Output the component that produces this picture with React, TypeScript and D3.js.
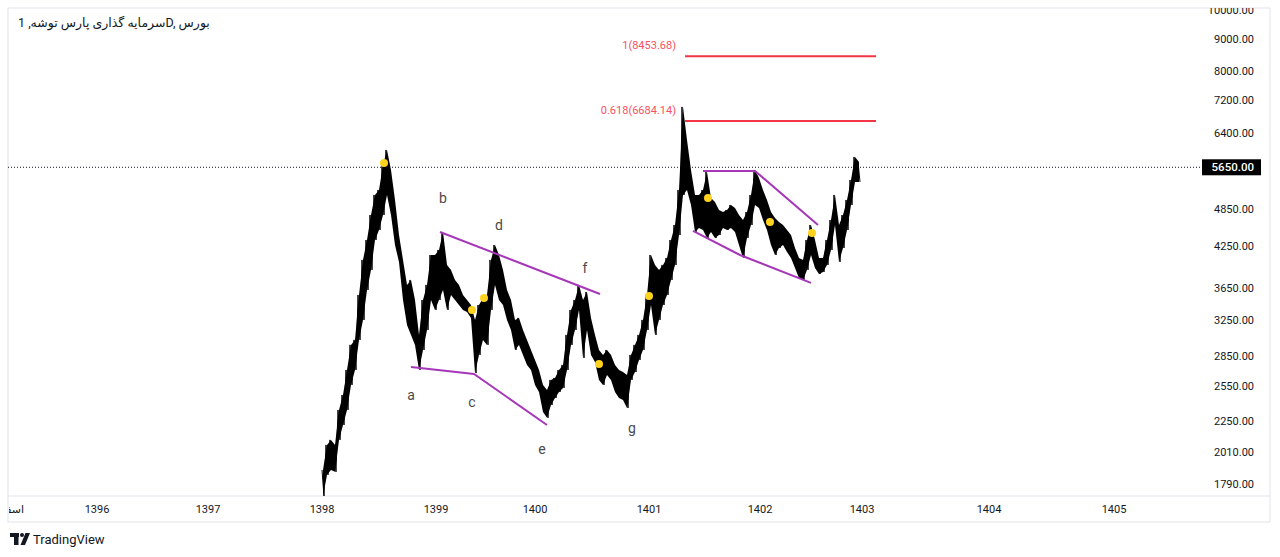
import { useEffect } from 'react';
import * as d3 from 'd3';

// bar-sampled high / low (every bar ≈ one slot of the TradingView time scale)
const barHigh = [
  1884, 2063, 2101, 2063, 2342, 2473, 2708, 2966, 3020, 3555,
  4037, 4340, 4752, 5110, 5204, 5698, 6017, 5596, 5018, 4419,
  4037, 3687, 3754, 3491, 3075, 3491, 3687, 4110, 4110, 4186,
  4468, 3964, 3893, 3754, 3687, 3555, 3491, 3428, 3247, 3428,
  3517, 3555, 4037, 4262, 4110, 3893, 3620, 3491, 3247, 3271,
  3131, 3020, 2912, 2808, 2708, 2565, 2518, 2612, 2631, 2708,
  2758, 3075, 3367, 3491, 3687, 3491, 3594, 3271, 3075, 2912,
  2860, 2912, 2860, 2758, 2708, 2688, 2660, 2860, 2966, 3075,
  3247, 3555, 4110, 3964, 3893, 3964, 4066, 4340, 4583, 5204,
  7033, 6238, 5596, 5110, 5110, 5204, 5556, 5055, 4982, 4839,
  4804, 4839, 4928, 4875, 4752, 4667, 4804, 5110, 5596, 5436,
  5204, 5018, 4804, 4701, 4633, 4583, 4500, 4419, 4216, 4066,
  4037, 4340, 4583, 4340, 4066, 4066, 4340, 4667, 5110, 4583,
  4752, 5018, 5396, 5866, 5760,
];
const barLow = [
  1711, 1851, 1884, 1871, 2101, 2218, 2342, 2565, 2708, 3020,
  3247, 3620, 3893, 4340, 4500, 4752, 5110, 4752, 4262, 4008,
  3491, 3189, 3075, 2966, 2708, 2912, 3131, 3491, 3367, 3491,
  3620, 3367, 3555, 3491, 3428, 3367, 3343, 3271, 2678, 2860,
  3020, 2966, 3367, 3687, 3491, 3428, 3247, 3131, 2912, 2966,
  2860, 2758, 2708, 2565, 2500, 2325, 2276, 2385, 2446, 2500,
  2537, 2708, 2966, 3131, 3367, 2829, 3131, 2860, 2788, 2612,
  2565, 2660, 2612, 2500, 2446, 2429, 2359, 2612, 2688, 2808,
  2912, 3131, 3428, 3075, 3247, 3428, 3555, 3754, 3964, 4419,
  5110, 5204, 4928, 4468, 4534, 4500, 4372, 4468, 4372, 4419,
  4534, 4500, 4534, 4468, 4262, 4066, 4372, 4583, 4928, 4875,
  4667, 4500, 4262, 4110, 4216, 4262, 4155, 4066, 3921, 3782,
  3754, 3893, 4110, 3921, 3837, 3865, 3964, 4186, 4583, 4008,
  4216, 4500, 4928, 5357, 5357,
];

const priceTicks = [1790, 2010, 2250, 2550, 2850, 3250, 3650, 4250, 4850, 6400, 7200, 8000, 9000, 10000];
const yearLabels = ['1396', '1397', '1398', '1399', '1400', '1401', '1402', '1403', '1404', '1405'];
const yearBars = [-56.25, -28.5, 0, 28.5, 53.25, 81.75, 109.5, 135, 166.75, 198];
const lastPrice = 5650;

const fibLabels = ['1(8453.68)', '0.618(6684.14)'];
const fibPrices = [8453.68, 6684.14];
const fibBars = [90.75, 138.5];

// [bar, price] vertices of the drawn trend lines
const trendLines: [number, number][][] = [
  [[22.25, 2738], [38, 2669], [56.25, 2218]],
  [[29.5, 4468], [69.5, 3568]],
  [[95.25, 5576], [108.25, 5576], [124, 4583]],
  [[92.75, 4484], [104.5, 4110], [122.25, 3714]],
];

const dotBars = [15.5, 37.5, 40.5, 69.25, 81.75, 96.5, 112, 122.5];
const dotPrices = [5740, 3367, 3517, 2768, 3542, 5055, 4633, 4452];

const waveNames = ['a', 'b', 'c', 'd', 'e', 'f', 'g'];
const waveBars = [22.25, 30.25, 37.5, 44.25, 55, 65.75, 77.5];
const wavePrices = [2473, 5055, 2411, 4583, 2033, 3921, 2194];

// symbol, interval, exchange – the browser's bidi gives the legend's look
const title = 'سرمایه گذاری پارس توشه, 1D, بورس';

const frame = { left: 8, top: 8, right: 1270, plotRight: 1200, plotBottom: 496, bottom: 522 };
const font = "Roboto, 'DejaVu Sans', sans-serif";

export default function App() {
  useEffect(() => {
    document.body.style.margin = '0';
    document.body.style.background = '#ffffff';
  }, []);

  const x = d3.scaleLinear().domain([-78.5, 219.5]).range([frame.left, frame.plotRight]);
  const y = d3.scaleLog().domain([1714, 10071]).range([frame.plotBottom, frame.top]);

  const zig: [number, number][] = [];
  barHigh.forEach((h, i) => {
    zig.push([i, h]);
    zig.push([i + 0.5, barLow[i]]);
  });
  const pricePath = d3.line<[number, number]>().x(d => x(d[0])).y(d => y(d[1]))(zig) || '';
  const band = d3.area<number>().x((_, i) => x(i + 0.25)).y0((_, i) => y(barLow[i])).y1(d => y(d))(barHigh) || '';
  const trend = d3.line<[number, number]>().x(d => x(d[0])).y(d => y(d[1]));

  const yLast = y(lastPrice);

  return (
    <svg width={1280} height={557} style={{ display: 'block' }} fontFamily={font}>
      <defs>
        <clipPath id="plot">
          <rect x={frame.left} y={frame.top} width={frame.plotRight - frame.left} height={frame.plotBottom - frame.top} />
        </clipPath>
        <clipPath id="axis">
          <rect x={frame.plotRight} y={frame.top} width={frame.right - frame.plotRight} height={frame.plotBottom - frame.top} />
        </clipPath>
        <clipPath id="time">
          <rect x={frame.left + 1} y={frame.plotBottom} width={frame.right - frame.left} height={frame.bottom - frame.plotBottom} />
        </clipPath>
      </defs>
      <rect width={1280} height={557} fill="#fff" />

      {/* frame */}
      <rect x={frame.left} y={frame.top} width={frame.right - frame.left} height={frame.bottom - frame.top} fill="none" stroke="#e0e3eb" />
      <line x1={frame.left} x2={frame.right} y1={frame.plotBottom} y2={frame.plotBottom} stroke="#e0e3eb" />

      <text x={18} y={27} fontSize={12.5} fill="#131722" direction="ltr">{title}</text>

      <g clipPath="url(#plot)">
        {/* last price dotted line */}
        <line x1={frame.left} x2={frame.plotRight} y1={yLast} y2={yLast} stroke="#131722" strokeWidth={1} strokeDasharray="1 2" />

        <path d={band} fill="#000" />
        <path d={pricePath} fill="none" stroke="#000" strokeWidth={1} />

        {fibPrices.map((p, i) => (
          <g key={fibLabels[i]}>
            <line x1={x(fibBars[0])} x2={x(fibBars[1])} y1={y(p)} y2={y(p)} stroke="#f23645" strokeWidth={2} />
            <text x={x(fibBars[0]) - 9} y={y(p) - 7} textAnchor="end" fontSize={11} fill="#f7525f">{fibLabels[i]}</text>
          </g>
        ))}

        {trendLines.map((pts, i) => (
          <path key={i} d={trend(pts) || ''} fill="none" stroke="#a637b8" strokeWidth={2} />
        ))}

        {dotBars.map((b, i) => (
          <circle key={i} cx={x(b)} cy={y(dotPrices[i])} r={4} fill="#ffd21f" />
        ))}

        {waveNames.map((n, i) => (
          <text key={n} x={x(waveBars[i])} y={y(wavePrices[i])} dy="0.35em" textAnchor="middle" fontSize={14} fill="#4a4a4a">{n}</text>
        ))}
      </g>

      {/* price axis */}
      <g clipPath="url(#axis)">
        {priceTicks.map(t => (
          <text key={t} x={1254} y={y(t)} dy="0.35em" textAnchor="end" fontSize={11} fill="#131722">{t.toFixed(2)}</text>
        ))}
      </g>
      <rect x={1202} y={yLast - 8} width={59} height={16} fill="#000" />
      <text x={1254} y={yLast} dy="0.36em" textAnchor="end" fontSize={11.5} fontWeight={500} fill="#fff">{lastPrice.toFixed(2)}</text>

      {/* time axis */}
      <g clipPath="url(#time)">
        <text x={x(-74.5)} y={509} dy="0.35em" textAnchor="end" fontSize={11} fill="#131722">اسفند</text>
        {yearLabels.map((l, i) => (
          <text key={l} x={x(yearBars[i])} y={509} dy="0.35em" textAnchor="middle" fontSize={11} fill="#131722">{l}</text>
        ))}
      </g>

      {/* TradingView logo */}
      <g fill="#131722">
        <rect x={10} y={533} width={9} height={4} />
        <rect x={14} y={533} width={4.5} height={12} />
        <circle cx={22} cy={535} r={2} />
        <path d="M25.5 533 L30 533 L25 545 L20.5 545 Z" />
      </g>
      <text x={33} y={539} dy="0.35em" fontSize={13} fill="#131722">TradingView</text>
    </svg>
  );
}
